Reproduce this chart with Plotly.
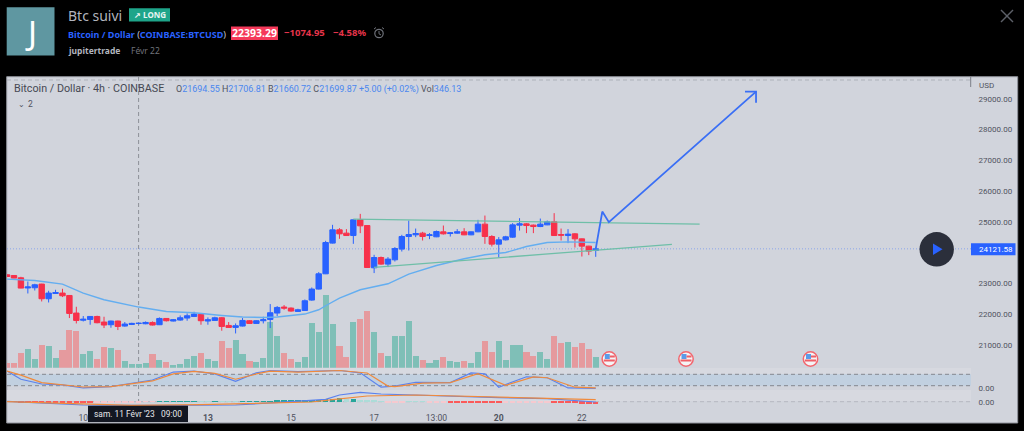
import plotly.graph_objects as go

W, H = 1024, 431
candle_index = list(range(86))
opens = [23277,23255,23180,22849,22855,22975,22498,22670,22683,22605,22033,21800,21825,21922,21740,21653,21773,21610,21662,21694.55,21685,21727,21653,21857,21773,21805,21870,21922,21987,21773,21792,21880,21630,21565,21610,21783,21695,21783,21825,22033,22228,22195,22085,22117,22455,22813,23310,24308,24740,24633,24555,25075,24880,23505,23840,23625,23765,24113,24523,24578,24633,24555,24513,24675,24620,24633,24675,24577,24675,24925,24523,24275,24415,24503,24893,24935,24893,24848,24902,25000,24587,24555,24610,24447,24210,24068]
highs = [23294,23260,23212,23060,22985,22985,22758,22790,22823,22620,22238,21935,21925,21945,21913,21785,21785,21740,21717,21706.81,21760,21760,21890,21870,21838,21955,22020,22075,22000,21890,21913,21903,21740,21695,21870,21805,21792,21913,22325,22260,22293,22215,22172,22475,22865,23365,24383,24903,24795,24763,25088,25260,24893,23928,23872,23853,24178,24578,25042,24782,24675,24633,24717,24880,24665,24763,24795,24685,25065,25205,24568,24503,24545,24958,25120,24958,24912,25107,25042,25283,24782,24763,24633,24457,24220,24180]
lows = [23212,23165,22840,22670,22767,22410,22377,22660,22553,21870,21695,21760,21653,21700,21545,21555,21480,21588,21643,21660.72,21669,21630,21643,21760,21760,21783,21783,21903,21653,21653,21783,21458,21555,21370,21597,21685,21685,21695,21545,21935,22140,22075,22075,22107,22433,22800,23300,24295,24448,24545,24285,24633,23505,23333,23603,23528,23710,24035,24068,24503,24393,24438,24503,24587,24522,24610,24568,24568,24665,24285,24198,23840,24393,24480,24717,24633,24633,24828,24893,24545,24393,24308,24165,23872,23918,23862]
closes = [23222,23170,22845,22881,22953,22498,22683,22700,22595,22020,21792,21830,21922,21718,21643,21773,21597,21675,21695,21699.87,21727,21643,21857,21782,21815,21880,21945,22000,21783,21815,21880,21597,21565,21620,21792,21695,21783,21815,22043,22215,22195,22098,22140,22433,22813,23310,24328,24740,24610,24555,25065,24870,23515,23840,23625,23788,24133,24523,24588,24620,24523,24578,24685,24610,24642,24675,24577,24675,24925,24523,24275,24415,24513,24902,24935,24880,24848,24925,25000,24555,24568,24600,24447,24210,24048,24121.58]
volumes = [430,500,1430,1870,900,2300,2170,970,1770,3770,3700,1370,1700,870,2030,1970,1770,670,330,330,470,1370,730,570,270,400,900,1200,1470,870,670,2670,1930,2730,1370,670,600,970,4570,3170,1470,870,570,1030,4470,3600,7270,4370,2200,1100,4600,4830,5670,3600,1430,1170,3200,3170,4700,1200,730,500,800,1070,630,600,670,500,1600,2670,1600,2670,730,2300,2300,1600,1170,1570,870,3170,2470,2570,2100,2500,1870,1070]

ma_index = [0,4,8,11,14,17,19,23,27,31,34,37,39,43,45,46,48,51,55,58,59,62,66,69,72,75,78,81,85]
ma_price = [23138,23092,22975,22683,22465,22325,22228,22085,22043,21955,21903,21890,21903,22000,22140,22270,22520,22790,22985,23300,23375,23580,23798,23928,24002,24197,24328,24350,24328]

stoch_k_index = [0,2,5,8,11,15,18,21,24,27,30,33,36,38,42,48,51,54,56,59,64,67,69,71,75,78,81,85]
stoch_k = [97,54,29,24,8,15,33,50,92,97,82,43,88,100,94,100,88,12,18,38,36,87,82,12,67,62,8,6]
stoch_d_index = [0,2,5,8,11,15,18,21,24,27,30,33,36,38,42,48,52,55,56,60,64,68,72,76,78,82,85]
stoch_d = [97,76,36,25,13,15,29,45,82,95,85,54,82,97,92,100,87,18,15,33,36,83,22,66,62,12,8]

macd_index = [0,5,11,23,33,41,44,46,48,51,54,62,71,78,85]
macd_line = [4,-13,-33,-36,-33,0,10,24,67,94,77,57,40,30,-3]
signal_index = [0,9,18,28,36,44,47,52,59,66,76,85]
signal_line = [0,-20,-36,-30,-20,-3,20,57,67,54,40,20]
macd_hist = [-3,-3,-4,-4,-5,-5,-6,-6,-7,-8,-10,-12,-10,-10,-9,-8,-7,-6,-5,-4,-3,-2,3,4,5,6,6,6,5,4,5,4,3,3,4,5,5,6,7,8,9,10,12,15,18,22,28,32,35,25,30,15,12,9,6,-5,-5,-6,5,6,5,-5,-6,-7,-9,-11,-12,-13,-13,-14,-15,-15,-14,-12,-10,-9,-8,-7,-7,-9,-11,-13,-15,-18,-20,-22]
hist_shade = "R"*13 + "r"*9 + "G"*6 + "g"*2 + "G" + "g"*3 + "G"*15 + "g" + "G" + "g"*4 + "r"*3 + "g"*3 + "r"*3 + "R"*8 + "r"*7 + "R"*7

trend_top_index, trend_top_price = [50, 100], [25088, 24925]
trend_low_index, trend_low_price = [53, 96], [23520, 24270]
arrow_index = [85, 85.95, 86.9, 108.15]
arrow_price = [24121, 25335, 24990, 29235]
head_index = [106.56, 108.15, 108.15]
head_price = [29235, 29235, 28877]

price_ticks = [21000,22000,23000,24000,25000,26000,27000,28000,29000]
time_tick_index = [11,29,41,53,62,71,83]
time_tick_labels = ["10","<b>13</b>","15","17","13:00","<b>20</b>","22"]
last_price = 24121.58

BLUE, RED = "#2962ff", "#f7314b"
PANEL = "#d1d4dc"
GREY = "#50535e"
FONT = "Roboto"


def fx(x):
    return x / W


def fy(y):
    return 1 - y / H


fig = go.Figure()
vol_colors = ["#7fbfb7" if c >= o else "#e59a9e" for o, c in zip(opens, closes)]
fig.add_bar(x=candle_index, y=volumes, width=0.88, marker=dict(color=vol_colors, line_width=0), yaxis="y", xaxis="x")
fig.add_candlestick(x=candle_index, open=opens, high=highs, low=lows, close=closes, yaxis="y2", xaxis="x",
                    whiskerwidth=0,
                    increasing=dict(line=dict(color=BLUE, width=1), fillcolor=BLUE),
                    decreasing=dict(line=dict(color=RED, width=1), fillcolor=RED))
fig.add_scatter(x=ma_index, y=ma_price, mode="lines", line=dict(color="#64aef0", width=1.4), yaxis="y2", xaxis="x")
for xs, ys in [(trend_top_index, trend_top_price), (trend_low_index, trend_low_price)]:
    fig.add_scatter(x=xs, y=ys, mode="lines", line=dict(color="#6fbfa8", width=1.3), yaxis="y2", xaxis="x")
fig.add_scatter(x=arrow_index, y=arrow_price, mode="lines", line=dict(color="#3a6ff5", width=1.8), yaxis="y2", xaxis="x")
fig.add_scatter(x=head_index, y=head_price, mode="lines", line=dict(color="#3a6ff5", width=1.8), yaxis="y2", xaxis="x")
fig.add_scatter(x=stoch_k_index, y=stoch_k, mode="lines", line=dict(color="#5b82ee", width=1.2), yaxis="y3", xaxis="x")
fig.add_scatter(x=stoch_d_index, y=stoch_d, mode="lines", line=dict(color="#f08a3c", width=1.2), yaxis="y3", xaxis="x")
shade_colors = {"R": "#fb5a5a", "r": "#f6c9cf", "G": "#26a69a", "g": "#acdcd8"}
fig.add_bar(x=candle_index, y=macd_hist, width=0.8, marker=dict(color=[shade_colors[s] for s in hist_shade], line_width=0), yaxis="y4", xaxis="x")
fig.add_scatter(x=macd_index, y=macd_line, mode="lines", line=dict(color="#5b82ee", width=1.2), yaxis="y4", xaxis="x")
fig.add_scatter(x=signal_index, y=signal_line, mode="lines", line=dict(color="#f08a3c", width=1.2), yaxis="y4", xaxis="x")

shapes = []


def rect(x0, y0, x1, y1, fill, line=None, layer="below", lw=1):
    shapes.append(dict(type="rect", xref="paper", yref="paper", x0=fx(x0), x1=fx(x1), y0=fy(y0), y1=fy(y1),
                       fillcolor=fill, line=dict(color=line or "rgba(0,0,0,0)", width=lw if line else 0), layer=layer))


def seg(x0, y0, x1, y1, color, width=1, dash="solid", layer="above"):
    shapes.append(dict(type="line", xref="paper", yref="paper", x0=fx(x0), x1=fx(x1), y0=fy(y0), y1=fy(y1),
                       line=dict(color=color, width=width, dash=dash), layer=layer))


def disc(cx, cy, r, fill, line=None, lw=1):
    shapes.append(dict(type="circle", xref="paper", yref="paper", x0=fx(cx - r), x1=fx(cx + r), y0=fy(cy + r), y1=fy(cy - r),
                       fillcolor=fill, line=dict(color=line or "rgba(0,0,0,0)", width=lw if line else 0), layer="above"))


rect(6.7, 76.7, 1017.7, 423, PANEL, "#8f929b")
rect(7, 368, 971, 374, "#d7d9e0")
rect(7, 390, 971, 401, "#d7d9e0")
shapes.append(dict(type="rect", xref="paper", yref="y3", x0=fx(7), x1=fx(971), y0=20, y1=80, fillcolor="#c1d0e0", line_width=0, layer="below"))
for lvl in (80, 20):
    shapes.append(dict(type="line", xref="paper", yref="y3", x0=fx(7), x1=fx(971), y0=lvl, y1=lvl, line=dict(color="#84878f", width=1, dash="4px,3px"), layer="below"))
shapes.append(dict(type="line", xref="paper", yref="y4", x0=fx(7), x1=fx(971), y0=0, y1=0, line=dict(color="#b5b8c0", width=1, dash="4px,3px"), layer="below"))
seg(7, 80, 971, 80, "#aeb1b9", 1, "4px,3px", "below")
seg(970.7, 77, 970.7, 87, "#7c7f88", 1, "solid", "below")
seg(138.6, 77, 138.6, 408, "#8d9098", 1, "4px,3px", "below")
shapes.append(dict(type="line", xref="paper", yref="y2", x0=fx(7), x1=fx(971), y0=last_price, y1=last_price, line=dict(color="#8ba6ea", width=1, dash="1px,2px"), layer="below"))
rect(971, 243.3, 1015.5, 255.3, BLUE, layer="above")
disc(936.7, 249.3, 17.2, "#2b2f3b")
shapes.append(dict(type="path", xref="paper", yref="paper", layer="above", fillcolor=BLUE, line_width=0,
                   path=f"M {fx(933)} {fy(243.5)} L {fx(942.5)} {fy(249.3)} L {fx(933)} {fy(255)} Z"))
for cx in (609.3, 686, 810.5):
    disc(cx, 359, 7.2, "#f4f4f6", "#f2666e", 1.5)
    rect(cx - 4.5, 354, cx + 0.5, 359, "#5b9be8", layer="above")
    rect(cx + 0.5, 355.5, cx + 5.5, 357.5, "#ef5f67", layer="above")
    rect(cx - 5.5, 359.5, cx + 5.5, 361.5, "#ef5f67", layer="above")
rect(88, 405.7, 188, 422, "#131722", layer="above")
rect(6.7, 7.3, 54.5, 55.5, "#5f97a1")
rect(129, 8.3, 170, 21.5, "#1ea58a")
rect(231, 26.5, 278, 40, "#f5395a")
seg(1001, 10, 1013, 22, "#5d6068", 1.4)
seg(1013, 10, 1001, 22, "#5d6068", 1.4)
disc(379, 33.5, 4.2, "rgba(0,0,0,0)", "#6f727a", 1.2)
seg(379, 31, 379, 33.8, "#6f727a", 1)
seg(379, 33.8, 381, 35, "#6f727a", 1)
seg(374, 29, 376, 27.5, "#6f727a", 1)
seg(382, 27.5, 384, 29, "#6f727a", 1)

ann = []


def text(x, y, s, size, color, family=FONT, anchor="left"):
    ann.append(dict(xref="paper", yref="paper", x=fx(x), y=fy(y), text=s, showarrow=False, xanchor=anchor, yanchor="middle",
                    font=dict(size=size, color=color, family=family), borderpad=0))


HEAD = "Noto Sans"
text(30.5, 32, "J", 33, "#ffffff", HEAD, "center")
text(67, 15, "Btc suivi", 14, "#b2b5be", HEAD)
text(133, 14.5, "<b>↗ LONG</b>", 8, "#e8f5f2", HEAD)
text(67, 34.5, f'<b><span style="color:{BLUE}">Bitcoin / Dollar</span></b> <span style="color:#c8cad0">(</span><b><span style="color:{BLUE}">COINBASE:BTCUSD</span></b><span style="color:#c8cad0">)</span>', 9, BLUE, HEAD)
text(254.5, 33, "<b>22393.29</b>", 10.5, "#ffffff", HEAD, "center")
text(283, 33, "<b>−1074.95</b>", 9.5, "#e5344a", HEAD)
text(332, 33, "<b>−4.58%</b>", 9.5, "#e5344a", HEAD)
text(67, 50.5, "<b>jupitertrade</b>", 8.5, "#b2b5be", HEAD)
text(130, 50.5, "Févr 22", 8.5, "#70737b", HEAD)
text(12.5, 88, "Bitcoin / Dollar · 4h · COINBASE", 10.75, "#464953")
NUM = "#4a87ef"
ohlc = "".join(f'{lab}<span style="color:{NUM}">{val}</span> ' for lab, val in [("O", "21694.55"), ("H", "21706.81"), ("B", "21660.72"), ("C", "21699.87")])
text(175, 89.5, f'{ohlc}<span style="color:{NUM}">+5.00 (+0.02%)</span> Vol<span style="color:{NUM}">346.13</span>', 8.95, GREY)
text(17, 104.5, "⌄", 8, GREY)
text(27, 104.5, "2", 8.5, GREY)
text(977.7, 86, "USD", 8, GREY)
text(978, 249.5, "24121.58", 8, "#ffffff")
text(138, 414, "sam. 11 Févr '23   09:00", 8.4, "#e6e7ea", FONT, "center")

fig.update_layout(
    width=W, height=H, margin=dict(l=0, r=0, t=0, b=0, pad=0, autoexpand=False), paper_bgcolor="#000000", plot_bgcolor="rgba(0,0,0,0)",
    showlegend=False, shapes=shapes, annotations=ann, hovermode=False, bargap=0, boxgap=0.22, boxgroupgap=0,
    xaxis=dict(domain=[fx(7), fx(971)], range=[-0.01, 139.19], anchor="y4", rangeslider=dict(visible=False),
               showgrid=False, zeroline=False, showline=False, tickmode="array", tickvals=time_tick_index, ticktext=time_tick_labels,
               ticks="outside", ticklen=2, tickcolor="rgba(0,0,0,0)", tickfont=dict(size=8.6, color=GREY, family=FONT)),
    yaxis=dict(domain=[fy(367.7), fy(78)], range=[0, 28970], visible=False, fixedrange=True),
    yaxis2=dict(domain=[fy(368), fy(78)], range=[20255, 29680], overlaying="y", anchor="x", side="right", showgrid=False, zeroline=False,
                tickmode="array", tickvals=price_ticks, tickformat=".2f", ticks="outside", ticklen=5, tickcolor="rgba(0,0,0,0)",
                tickfont=dict(size=8, color=GREY, family=FONT)),
    yaxis3=dict(domain=[fy(391), fy(369)], range=[-8, 108], anchor="x", side="right", showgrid=False, zeroline=False,
                tickmode="array", tickvals=[8], ticktext=["0.00"], ticks="outside", ticklen=5, tickcolor="rgba(0,0,0,0)",
                tickfont=dict(size=8, color=GREY, family=FONT)),
    yaxis4=dict(domain=[fy(408), fy(391)], range=[-63, 107], anchor="x", side="right", showgrid=False, zeroline=False,
                tickmode="array", tickvals=[0], ticktext=["0.00"], ticks="outside", ticklen=5, tickcolor="rgba(0,0,0,0)",
                tickfont=dict(size=8, color=GREY, family=FONT)),
)

fig.write_html("out.html", config={"displayModeBar": False},
               post_script="document.body.style.margin='0';document.body.style.background='#000';document.body.style.overflow='hidden';")
